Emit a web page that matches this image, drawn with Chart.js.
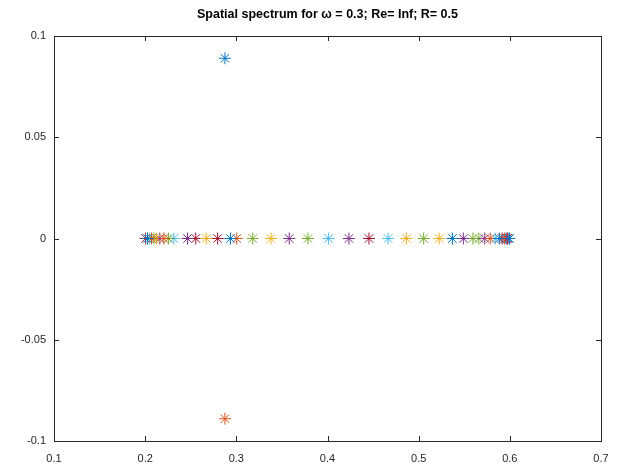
<!DOCTYPE html>
<html>
<head>
<meta charset="utf-8">
<script src="https://cdn.jsdelivr.net/npm/chart.js@4"></script>
<style>
  html, body { margin: 0; padding: 0; background: #fff; }
  canvas { display: block; }
</style>
</head>
<body>
<canvas id="spectrum" width="622" height="467"></canvas>
<script>
// Valores (eje x: Re(k), eje y: Im(k)), agrupados por color de Octave
const xTicks = [0.1, 0.2, 0.3, 0.4, 0.5, 0.6, 0.7];
const yTicks = [-0.1, -0.05, 0, 0.05, 0.1];

const blueX = [0.2875, 0.2025, 0.2935, 0.537, 0.5885, 0.5996];
const blueY = [0.089, 0, 0, 0, 0, 0];
const orangeX = [0.2875, 0.207, 0.2205, 0.3005, 0.5785, 0.594];
const orangeY = [-0.089, 0, 0, 0, 0, 0];
const yellowX = [0.2125, 0.267, 0.338, 0.4865, 0.5225];
const yellowY = [0, 0, 0, 0, 0];
const purpleX = [0.216, 0.2465, 0.358, 0.4235, 0.549, 0.5725, 0.596];
const purpleY = [0, 0, 0, 0, 0, 0, 0];
const greenX = [0.2095, 0.2255, 0.318, 0.3785, 0.5055, 0.5595, 0.566];
const greenY = [0, 0, 0, 0, 0, 0, 0];
const lightBlueX = [0.2045, 0.2315, 0.401, 0.4665, 0.584, 0.5988];
const lightBlueY = [0, 0, 0, 0, 0, 0];
const darkRedX = [0.2005, 0.2555, 0.2795, 0.4455, 0.5915, 0.5975];
const darkRedY = [0, 0, 0, 0, 0, 0];

const axisColor = "#262626";

function puntos(xs, ys) {
  return xs.map((x, i) => ({ x: x, y: ys[i] }));
}

function serie(xs, ys, color) {
  return {
    data: puntos(xs, ys),
    showLine: false,
    pointStyle: "star",
    pointRadius: 6,
    pointHoverRadius: 6,
    borderColor: color,
    backgroundColor: color,
    borderWidth: 1
  };
}

// Caja y marcas hacia dentro, como en Octave
const cajaEjes = {
  id: "cajaEjes",
  afterDraw(chart) {
    const ctx = chart.ctx;
    const a = chart.chartArea;
    const sx = chart.scales.x;
    const sy = chart.scales.y;
    const len = 5;
    ctx.save();
    ctx.strokeStyle = axisColor;
    ctx.lineWidth = 1;
    ctx.beginPath();
    xTicks.forEach(v => {
      const px = Math.round(sx.getPixelForValue(v)) + 0.5;
      ctx.moveTo(px, a.bottom);
      ctx.lineTo(px, a.bottom - len);
      ctx.moveTo(px, a.top);
      ctx.lineTo(px, a.top + len);
    });
    yTicks.forEach(v => {
      const py = Math.round(sy.getPixelForValue(v)) + 0.5;
      ctx.moveTo(a.left, py);
      ctx.lineTo(a.left + len, py);
      ctx.moveTo(a.right, py);
      ctx.lineTo(a.right - len, py);
    });
    ctx.stroke();
    ctx.strokeRect(Math.round(a.left) + 0.5, Math.round(a.top) + 0.5,
      Math.round(a.right - a.left), Math.round(a.bottom - a.top));
    ctx.restore();
  }
};

new Chart(document.getElementById("spectrum"), {
  type: "scatter",
  data: {
    datasets: [
      serie(blueX, blueY, "#0072BD"),
      serie(orangeX, orangeY, "#D95319"),
      serie(yellowX, yellowY, "#EDB120"),
      serie(purpleX, purpleY, "#7E2F8E"),
      serie(greenX, greenY, "#77AC30"),
      serie(lightBlueX, lightBlueY, "#4DBEEE"),
      serie(darkRedX, darkRedY, "#A2142F")
    ]
  },
  options: {
    responsive: false,
    animation: false,
    layout: { padding: { left: 0, right: 21, top: 0, bottom: 0 } },
    plugins: {
      legend: { display: false },
      tooltip: { enabled: false },
      title: {
        display: true,
        fullSize: false,
        text: "Spatial spectrum for \u03c9 = 0.3; Re= Inf; R= 0.5",
        color: "#000",
        font: { family: "Liberation Sans, Arial, sans-serif", size: 12.5, weight: "bold" },
        padding: { top: 7, bottom: 14 }
      }
    },
    scales: {
      x: {
        type: "linear",
        min: 0.1,
        max: 0.7,
        afterBuildTicks: s => { s.ticks = xTicks.map(v => ({ value: v })); },
        afterFit: s => { s.height = 26; },
        grid: { display: false, drawTicks: false },
        border: { display: false },
        ticks: {
          padding: 11,
          color: axisColor,
          font: { family: "Liberation Sans, Arial, sans-serif", size: 11 },
          maxRotation: 0,
          callback: v => String(Math.round(v * 10) / 10)
        }
      },
      y: {
        type: "linear",
        min: -0.1,
        max: 0.1,
        afterBuildTicks: s => { s.ticks = yTicks.map(v => ({ value: v })); },
        afterFit: s => { s.width = 54; },
        grid: { display: false, drawTicks: false },
        border: { display: false },
        ticks: {
          padding: 8,
          color: axisColor,
          font: { family: "Liberation Sans, Arial, sans-serif", size: 11 },
          callback: v => String(Math.round(v * 100) / 100)
        }
      }
    }
  },
  plugins: [cajaEjes]
});
</script>
</body>
</html>
